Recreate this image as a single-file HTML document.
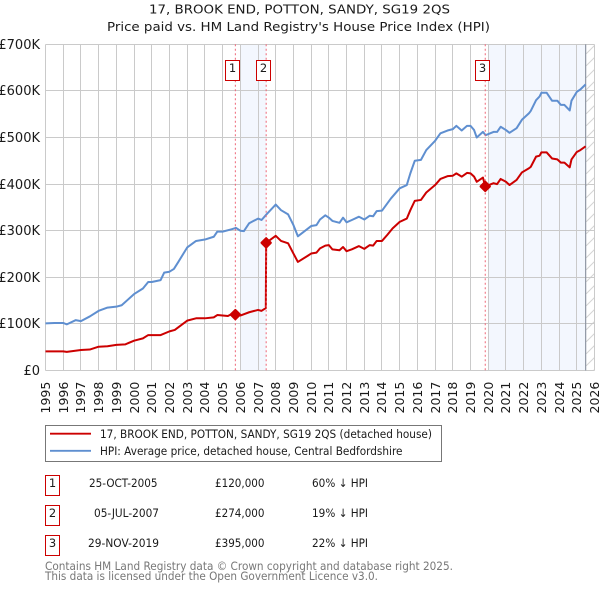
<!DOCTYPE html>
<html>
<head>
<meta charset="utf-8">
<title>17, Brook End price chart</title>
<style>
html,body{margin:0;padding:0;background:#fff;width:600px;height:590px;overflow:hidden}
svg{display:block;font-family:"DejaVu Sans",sans-serif}
text{fill:#1a1a1a}
</style>
</head>
<body>
<svg id="chart" xmlns="http://www.w3.org/2000/svg" width="600" height="590" viewBox="0 0 600 590">
<defs>
<pattern id="hatch" patternUnits="userSpaceOnUse" width="12" height="12" patternTransform="translate(586 6)">
<path d="M0 12L12 0" stroke="#d4d4d4" stroke-width="1" fill="none"/>
</pattern>
</defs>
<text x="149" y="13.5" font-size="12.5" textLength="301" lengthAdjust="spacingAndGlyphs">17, BROOK END, POTTON, SANDY, SG19 2QS</text>
<text x="107" y="31" font-size="12.5" textLength="383" lengthAdjust="spacingAndGlyphs">Price paid vs. HM Land Registry's House Price Index (HPI)</text>
<g id="bands"></g>
<g id="grid"></g>
<g id="ylabels"></g>
<g id="xlabels"></g>
<g id="series"></g>
<g id="sales"></g>

<g>
<rect x="45.5" y="425.5" width="396" height="36" fill="#fff" stroke="#777" stroke-width="1"/>
<line x1="50" x2="91" y1="433.7" y2="433.7" stroke="#cc0000" stroke-width="1.8"/>
<text x="100" y="438" font-size="11.5" textLength="332" lengthAdjust="spacingAndGlyphs">17, BROOK END, POTTON, SANDY, SG19 2QS (detached house)</text>
<line x1="50" x2="91" y1="450.8" y2="450.8" stroke="#5f8fd0" stroke-width="1.8"/>
<text x="100" y="455" font-size="11.5" textLength="302.5" lengthAdjust="spacingAndGlyphs">HPI: Average price, detached house, Central Bedfordshire</text>
</g>

<g font-size="11.5">
<g>
<rect x="45.5" y="475.5" width="14" height="20" fill="#fff" stroke="#cc0000" stroke-width="1"/>
<text x="52.5" y="487" text-anchor="middle">1</text>
<text x="89" y="487" textLength="68.5" lengthAdjust="spacingAndGlyphs">25-OCT-2005</text>
<text x="215" y="487" textLength="49.5" lengthAdjust="spacingAndGlyphs">£120,000</text>
<text x="312" y="487" textLength="56" lengthAdjust="spacingAndGlyphs">60% ↓ HPI</text>
</g>
<g>
<rect x="45.5" y="505.5" width="14" height="20" fill="#fff" stroke="#cc0000" stroke-width="1"/>
<text x="52.5" y="517" text-anchor="middle">2</text>
<text x="94" y="517" textLength="65" lengthAdjust="spacingAndGlyphs">05-JUL-2007</text>
<text x="215" y="517" textLength="49.5" lengthAdjust="spacingAndGlyphs">£274,000</text>
<text x="312" y="517" textLength="56" lengthAdjust="spacingAndGlyphs">19% ↓ HPI</text>
</g>
<g>
<rect x="45.5" y="535.5" width="14" height="20" fill="#fff" stroke="#cc0000" stroke-width="1"/>
<text x="52.5" y="547" text-anchor="middle">3</text>
<text x="88" y="547" textLength="71" lengthAdjust="spacingAndGlyphs">29-NOV-2019</text>
<text x="215" y="547" textLength="49.5" lengthAdjust="spacingAndGlyphs">£395,000</text>
<text x="312" y="547" textLength="56" lengthAdjust="spacingAndGlyphs">22% ↓ HPI</text>
</g>
</g>

<text x="45" y="570" font-size="11.5" textLength="408" lengthAdjust="spacingAndGlyphs" style="fill:#777">Contains HM Land Registry data © Crown copyright and database right 2025.</text>
<text x="45" y="580" font-size="11.5" textLength="333" lengthAdjust="spacingAndGlyphs" style="fill:#777">This data is licensed under the Open Government Licence v3.0.</text>
</svg>

<script>
const yearTicks = [1995,1996,1997,1998,1999,2000,2001,2002,2003,2004,2005,2006,2007,2008,2009,2010,2011,2012,2013,2014,2015,2016,2017,2018,2019,2020,2021,2022,2023,2024,2025,2026];
const valueTicks = [0,100,200,300,400,500,600,700];
const valueTickLabels = ['£0','£100K','£200K','£300K','£400K','£500K','£600K','£700K'];

const hpiDates = [1995,1995.5,1996,1996.2,1996.7,1997,1997.5,1998,1998.5,1999,1999.3,2000,2000.5,2000.8,2001,2001.5,2001.7,2002,2002.25,2002.5,2003,2003.5,2004,2004.5,2004.7,2005,2005.5,2005.75,2006,2006.2,2006.5,2007,2007.2,2007.5,2008,2008.3,2008.7,2009,2009.25,2009.8,2010,2010.3,2010.5,2010.8,2011,2011.2,2011.6,2011.8,2012,2012.3,2012.7,2013,2013.3,2013.5,2013.7,2014,2014.5,2015,2015.4,2015.6,2015.85,2016.2,2016.5,2017,2017.3,2017.7,2018,2018.2,2018.5,2018.8,2019,2019.2,2019.35,2019.7,2019.85,2020.3,2020.5,2020.7,2021,2021.2,2021.6,2021.9,2022.3,2022.4,2022.7,2022.9,2023,2023.3,2023.6,2023.9,2024.1,2024.3,2024.6,2024.7,2025,2025.2,2025.5];
const hpiValues = [101,102,102,99,108,106,116,128,135,137,140,164,176,190,190,194,210,212,218,233,264,278,281,287,298,298,303,306,300,299,316,326,323,336,356,344,335,312,288,304,310,312,324,333,328,321,317,328,318,323,330,324,332,331,342,343,369,391,398,423,450,452,473,493,509,515,518,525,515,525,525,516,500,512,505,512,512,523,516,510,520,538,552,557,580,588,596,596,579,579,570,570,558,579,598,603,614];

const priceDates = [1995,1995.5,1996,1996.2,1997,1997.5,1998,1998.5,1999,1999.5,2000,2000.5,2000.8,2001.5,2002,2002.3,2003,2003.5,2004,2004.5,2004.7,2005,2005.3,2005.5,2005.72,2006,2006.5,2007,2007.2,2007.44,2007.46,2008,2008.3,2008.7,2009,2009.25,2009.8,2010,2010.3,2010.5,2010.8,2011,2011.2,2011.6,2011.8,2012,2012.3,2012.7,2013,2013.3,2013.5,2013.7,2014,2014.3,2014.6,2015,2015.4,2015.6,2015.85,2016.2,2016.5,2017,2017.3,2017.7,2018,2018.2,2018.5,2018.8,2019,2019.2,2019.35,2019.7,2019.83,2020.3,2020.5,2020.7,2021,2021.2,2021.6,2021.9,2022.3,2022.4,2022.7,2022.9,2023,2023.3,2023.6,2023.9,2024.1,2024.3,2024.6,2024.7,2025,2025.2,2025.5];
const priceValues = [41,41,41,40,44,45,51,52,55,56,64,69,76,76,84,87,107,112,112,114,119,118,117,121,120,118,125,130,128,134,274,289,278,273,251,233,246,251,253,262,268,269,260,258,265,256,260,267,261,269,268,278,278,291,305,319,326,344,364,366,382,398,411,417,418,423,416,424,423,416,405,414,395,402,400,411,405,398,409,425,434,437,459,461,468,468,455,453,446,446,436,453,469,473,481];

const saleDates = [2005.72,2007.46,2019.83];
const salePrices = [120,274,395];
const saleLabels = ['1','2','3'];

const bandStarts = [2006,2020];
const bandEnds = [2007.46,2025.5];
const dataEndYear = 2025.5;

const NS = 'http://www.w3.org/2000/svg';
function x(year){return 45.5 + (year - 1995) * 17.71;}
function y(v){return 370.5 - v * 0.466;}
function snap(p){return Math.floor(p) + 0.5;}
function make(tag, attrs, parent){
  const el = document.createElementNS(NS, tag);
  for (const k in attrs) el.setAttribute(k, attrs[k]);
  parent.appendChild(el);
  return el;
}
const gBands = document.getElementById('bands');
const gGrid = document.getElementById('grid');
const gY = document.getElementById('ylabels');
const gX = document.getElementById('xlabels');
const gSeries = document.getElementById('series');
const gSales = document.getElementById('sales');

bandStarts.forEach(function(s, i){
  const r = make('rect', {x:x(s), y:y(700), width:x(bandEnds[i]) - x(s), height:y(0) - y(700), fill:'#f3f7fe'}, gBands);
  
  
});
const hatchRect = make('rect', {x:x(dataEndYear), y:y(700), width:x(2026) - x(dataEndYear), height:y(0) - y(700), fill:'url(#hatch)'}, gBands);



yearTicks.forEach(function(t){
  const px = snap(x(t));
  const l = make('line', {x1:px, x2:px, y1:snap(y(700)), y2:snap(y(0)), stroke:'#cacaca', 'stroke-width':1}, gGrid);
  
  
  const lab = make('text', {transform:'translate(' + (px + 4.5) + ',413.5) rotate(-90)', 'font-size':12.5}, gX);
  lab.textContent = String(t);
  
  
});
valueTicks.forEach(function(t, i){
  const py = snap(y(t));
  const l = make('line', {x1:snap(x(1995)), x2:snap(x(2026)), y1:py, y2:py, stroke:'#cacaca', 'stroke-width':1}, gGrid);
  
  
  const lab = make('text', {x:40, y:py + 4.5, 'text-anchor':'end', 'font-size':13}, gY);
  lab.textContent = valueTickLabels[i];
  
  
});
const endLine = make('line', {x1:x(dataEndYear), x2:x(dataEndYear), y1:y(700), y2:y(0), stroke:'#8f96a3', 'stroke-width':1.2}, gGrid);



function linePath(dates, values){
  return dates.map(function(d, i){return (i ? 'L' : 'M') + x(d).toFixed(2) + ' ' + y(values[i]).toFixed(2);}).join('');
}
const hpiLine = make('path', {d:linePath(hpiDates, hpiValues), fill:'none', stroke:'#5f8fd0', 'stroke-width':2, 'stroke-linejoin':'round'}, gSeries);


const priceLine = make('path', {d:linePath(priceDates, priceValues), fill:'none', stroke:'#cc0000', 'stroke-width':2, 'stroke-linejoin':'round'}, gSeries);



saleDates.forEach(function(d, i){
  const px = x(d), py = y(salePrices[i]);
  const v = make('line', {x1:px, x2:px, y1:y(700), y2:y(0), stroke:'#ee6677', 'stroke-width':1, 'stroke-dasharray':'2 2.5'}, gSales);
  
  
  const m = make('path', {d:'M' + (px - 4.6) + ' ' + py + 'L' + px + ' ' + (py - 4.6) + 'L' + (px + 4.6) + ' ' + py + 'L' + px + ' ' + (py + 4.6) + 'Z', fill:'#cc0000', stroke:'#cc0000', 'stroke-width':2.2, 'stroke-linejoin':'round'}, gSales);
  
  
  const b = make('rect', {x:snap(px - 10), y:60.5, width:14, height:20, fill:'#fff', stroke:'#cc0000', 'stroke-width':1}, gSales);
  
  
  const t = make('text', {x:snap(px - 10) + 7, y:72, 'text-anchor':'middle', 'font-size':11.5}, gSales);
  t.textContent = saleLabels[i];
  
  
});
</script>
</body>
</html>
